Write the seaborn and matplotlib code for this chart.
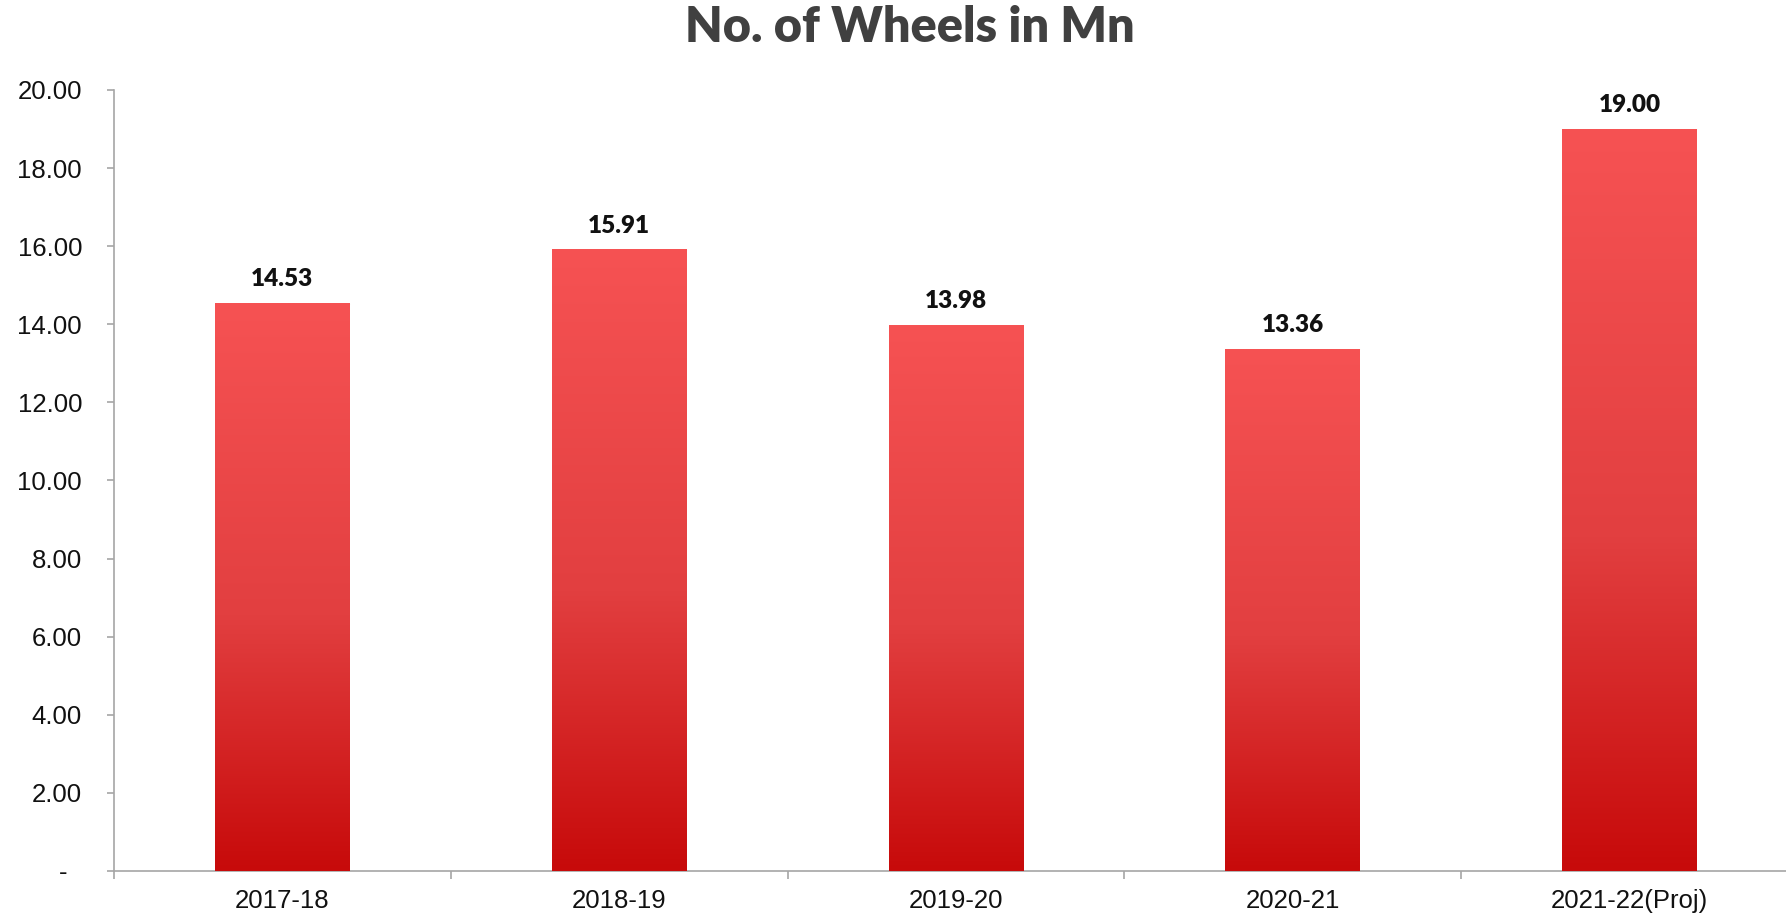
import numpy as np
import pandas as pd
import matplotlib
matplotlib.use('Agg')
import matplotlib.pyplot as plt
import seaborn as sns
from matplotlib.colors import LinearSegmentedColormap
from matplotlib.ticker import FixedLocator, FuncFormatter

# chart data
years = ['2017-18', '2018-19', '2019-20', '2020-21', '2021-22(Proj)']
wheels = [14.53, 15.91, 13.98, 13.36, 19.00]
y_ticks = [0, 2, 4, 6, 8, 10, 12, 14, 16, 18, 20]

df = pd.DataFrame({'year': years, 'wheels': wheels})

sns.set_theme(style='white')
plt.rcParams['font.family'] = ['Liberation Sans', 'DejaVu Sans']

fig = plt.figure(figsize=(17.86, 9.19), dpi=100)
ax = fig.add_axes([114 / 1786, 48 / 919, 1684 / 1786, 781 / 919])

sns.barplot(data=df, x='year', y='wheels', color='#e04040', width=0.4,
            saturation=1, ax=ax)

# vertical gradient on every bar, light at top, dark at bottom
cmap = LinearSegmentedColormap.from_list(
    'reds', [(0.0, '#c70a0a'), (0.45, '#e23f40'), (1.0, '#f65253')])
grad = np.linspace(0, 1, 256).reshape(-1, 1)
for p in ax.patches:
    x0, w, h = p.get_x(), p.get_width(), p.get_height()
    ax.imshow(grad, cmap=cmap, origin='lower', aspect='auto',
              extent=[x0, x0 + w, 0, h], zorder=3)
    ax.text(x0 + w / 2, h + 0.62, f'{h:.2f}', ha='center', va='center',
            fontsize=17.5, fontweight='heavy', family='Lato', color='#111111',
            zorder=4)

ax.set_xlim(-0.5, len(years) - 0.5)
ax.set_ylim(0, 20)
ax.set_xlabel('')
ax.set_ylabel('')

# accounting style: zero shown as a dash, a bit in from the right
ax.yaxis.set_major_locator(FixedLocator(y_ticks))
ax.yaxis.set_major_formatter(FuncFormatter(lambda v, _: '-  ' if v == 0 else f'{v:.2f}'))
ax.xaxis.set_minor_locator(FixedLocator(np.arange(-0.5, len(years), 1)))

for s in ['top', 'right']:
    ax.spines[s].set_visible(False)
for s in ['left', 'bottom']:
    ax.spines[s].set_color('#a6a6a6')
    ax.spines[s].set_linewidth(1.2)

ax.tick_params(axis='y', length=5, width=1.2, color='#a6a6a6', direction='out',
               pad=18, labelsize=18.5, labelcolor='#111111', left=True,
               labelfontfamily='Liberation Sans')
ax.tick_params(axis='x', which='major', length=0, pad=13, labelsize=18.5,
               labelcolor='#111111', labelfontfamily='Liberation Sans')
ax.tick_params(axis='x', which='minor', length=6, width=1.2, color='#a6a6a6',
               direction='out', bottom=True)

fig.text(910 / 1786, 1 - 28 / 919, 'No. of Wheels in Mn', ha='center', va='center',
         fontsize=35, fontweight='heavy', family='Lato', color='#404040')

fig.savefig('out.png', dpi=100)
